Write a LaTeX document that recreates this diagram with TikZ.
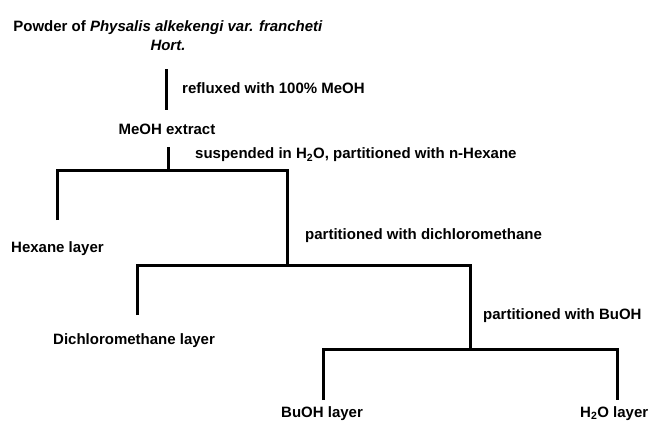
\documentclass[tikz,border=0pt]{standalone}
\usepackage{fontspec}
\setmainfont{Liberation Sans}
\usepackage{tikz}
\usetikzlibrary{positioning}

\begin{document}
\begin{tikzpicture}[
    x=1pt, y=-1pt,
    txt/.style={inner sep=0pt, font=\fontsize{15}{19}\selectfont\bfseries},
    step label/.style={txt, anchor=west},
    branch/.style={line width=3pt, line join=miter}
]
\useasboundingbox (0,0) rectangle (648,421);

% Texts
\node[txt, align=center] (powder) at (168,36) {Powder of \textit{Physalis alkekengi var. francheti}\\\textit{Hort.}};
\node[txt] (meoh) at (167,129) {MeOH extract};
\node[txt, anchor=west] (hexane) at (11,249) {Hexane layer};
\node[txt, anchor=west] (dcm) at (53,341) {Dichloromethane layer};
\node[txt, anchor=base west] (buoh) at (281,417) {BuOH layer};
\node[txt, anchor=base west] (water) at (580,417) {H\textsubscript{2}O layer};

% Step labels
\node[step label] (reflux) at (182,88) {refluxed with 100\% MeOH};
\node[step label] (suspend) at (195,155) {suspended in H\textsubscript{2}O, partitioned with n-Hexane};
\node[step label] (dcmstep) at (305,236) {partitioned with dichloromethane};
\node[step label] (bustep) at (483,316) {partitioned with BuOH};

% Line ends and splits
\coordinate (top1) at (166,69);
\coordinate (bot1) at (166,110);
\coordinate (top2) at (168,147);
\coordinate (split1) at (168,170);
\coordinate (hexEnd) at (57,220);
\coordinate (dcmSplit) at (287,265);
\coordinate (dcmEnd) at (137,315);
\coordinate (buSplit) at (470,349);
\coordinate (buEnd) at (323,400);
\coordinate (waterEnd) at (617,400);

% Branches
\draw[branch] (top1) -- (bot1);
\draw[branch] (top2) -- (split1);
\draw[branch] (hexEnd) |- (dcmSplit |- split1) -- (dcmSplit);
\draw[branch] (dcmEnd) |- (buSplit |- dcmSplit) -- (buSplit);
\draw[branch] (buEnd) |- (waterEnd |- buSplit) -- (waterEnd);

\end{tikzpicture}
\end{document}
